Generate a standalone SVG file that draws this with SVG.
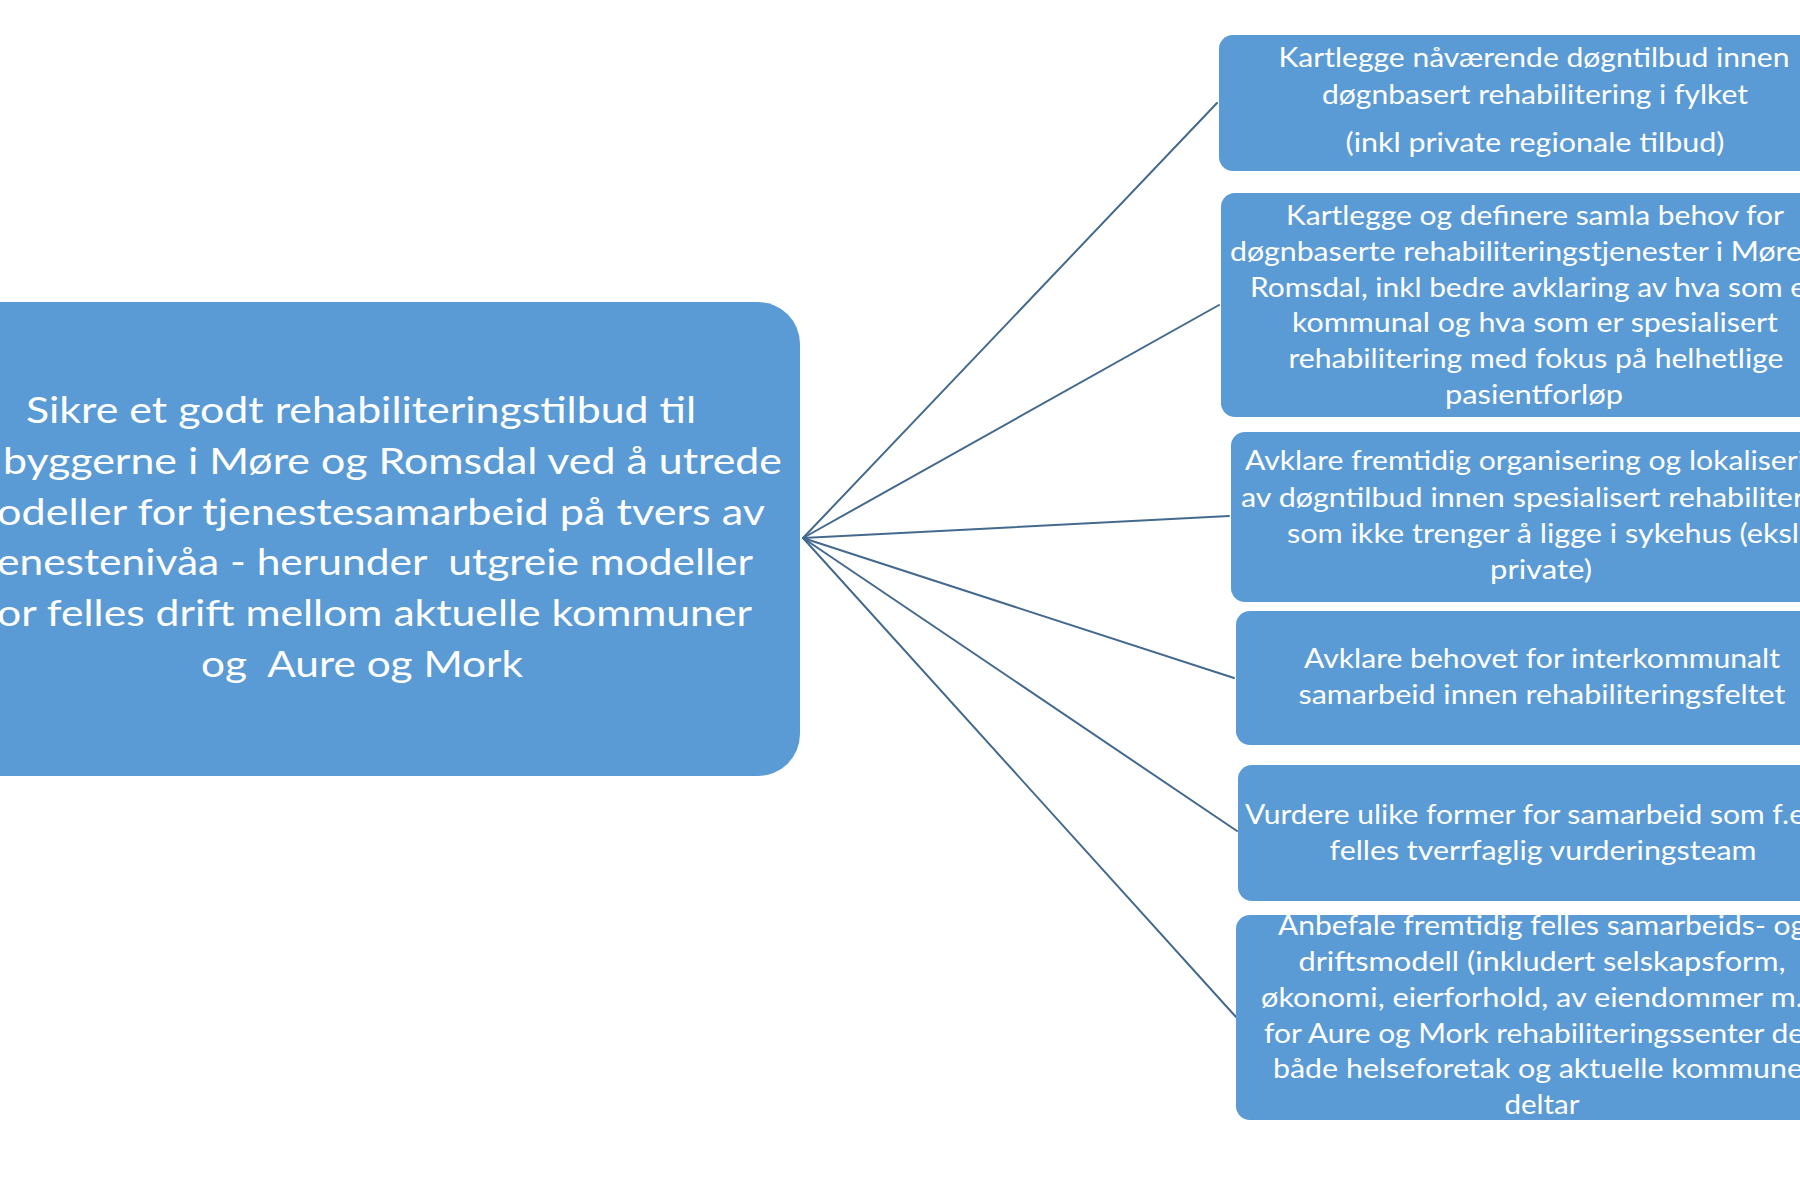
<svg xmlns="http://www.w3.org/2000/svg" width="1800" height="1200" viewBox="0 0 1800 1200">
<style>
.box{fill:#5B9BD5}
.t{font-family:Lato,"Liberation Sans",sans-serif;fill:#ffffff;font-size:26px}
.tm{font-size:37px}
.m{text-anchor:middle}
.e{text-anchor:end}
.c{stroke:#44698f;stroke-width:2;fill:none;stroke-linecap:round}
</style>
<rect width="1800" height="1200" fill="#ffffff"/>
<g id="connectors">
<line class="c" x1="803" y1="538" x2="1217" y2="103"/>
<line class="c" x1="803" y1="538" x2="1219" y2="305"/>
<line class="c" x1="803" y1="538" x2="1229" y2="516"/>
<line class="c" x1="803" y1="538" x2="1234" y2="678"/>
<line class="c" x1="803" y1="538" x2="1237" y2="831"/>
<line class="c" x1="803" y1="538" x2="1236" y2="1017"/>
</g>
<g id="main">
<rect class="box" x="-60" y="302" width="860" height="474" rx="42"/>
<text class="t tm m" x="361" y="423" textLength="670" lengthAdjust="spacingAndGlyphs">Sikre et godt rehabiliteringstilbud til</text>
<text class="t tm e" x="782" y="474" textLength="779" lengthAdjust="spacingAndGlyphs">byggerne i Møre og Romsdal ved å utrede</text>
<text class="t tm e" x="765" y="525" textLength="768" lengthAdjust="spacingAndGlyphs">odeller for tjenestesamarbeid på tvers av</text>
<text class="t tm e" x="753" y="575" textLength="756" lengthAdjust="spacingAndGlyphs" xml:space="preserve">enestenivåa - herunder  utgreie modeller</text>
<text class="t tm e" x="752" y="626" textLength="755" lengthAdjust="spacingAndGlyphs">or felles drift mellom aktuelle kommuner</text>
<text class="t tm m" x="362" y="677" textLength="322" lengthAdjust="spacingAndGlyphs" xml:space="preserve">og  Aure og Mork</text>
</g>
<g id="n1">
<rect class="box" x="1219" y="35" width="700" height="136" rx="14"/>
<text class="t m" x="1534" y="67" textLength="511" lengthAdjust="spacingAndGlyphs">Kartlegge nåværende døgntilbud innen</text>
<text class="t m" x="1535" y="104" textLength="426" lengthAdjust="spacingAndGlyphs">døgnbasert rehabilitering i fylket</text>
<text class="t m" x="1535" y="152" textLength="379" lengthAdjust="spacingAndGlyphs">(inkl private regionale tilbud)</text>
</g>
<g id="n2">
<rect class="box" x="1221" y="193" width="700" height="224" rx="14"/>
<text class="t m" x="1535" y="225" textLength="498" lengthAdjust="spacingAndGlyphs">Kartlegge og definere samla behov for</text>
<text class="t" x="1230" y="261" textLength="572" lengthAdjust="spacingAndGlyphs">døgnbaserte rehabiliteringstjenester i Møre</text>
<text class="t" x="1250" y="297" textLength="556" lengthAdjust="spacingAndGlyphs">Romsdal, inkl bedre avklaring av hva som e</text>
<text class="t m" x="1535" y="332" textLength="486" lengthAdjust="spacingAndGlyphs">kommunal og hva som er spesialisert</text>
<text class="t m" x="1536" y="368" textLength="495" lengthAdjust="spacingAndGlyphs">rehabilitering med fokus på helhetlige</text>
<text class="t m" x="1534" y="404" textLength="178" lengthAdjust="spacingAndGlyphs">pasientforløp</text>
</g>
<g id="n3">
<rect class="box" x="1231" y="432" width="700" height="170" rx="14"/>
<text class="t" x="1245" y="470" textLength="560" lengthAdjust="spacingAndGlyphs">Avklare fremtidig organisering og lokaliseri</text>
<text class="t" x="1241" y="507" textLength="563" lengthAdjust="spacingAndGlyphs">av døgntilbud innen spesialisert rehabiliter</text>
<text class="t" x="1287" y="543" textLength="512" lengthAdjust="spacingAndGlyphs">som ikke trenger å ligge i sykehus (eksl</text>
<text class="t m" x="1541" y="579" textLength="102" lengthAdjust="spacingAndGlyphs">private)</text>
</g>
<g id="n4">
<rect class="box" x="1236" y="611" width="700" height="134" rx="14"/>
<text class="t m" x="1542" y="668" textLength="476" lengthAdjust="spacingAndGlyphs">Avklare behovet for interkommunalt</text>
<text class="t m" x="1542" y="704" textLength="487" lengthAdjust="spacingAndGlyphs">samarbeid innen rehabiliteringsfeltet</text>
</g>
<g id="n5">
<rect class="box" x="1238" y="765" width="700" height="136" rx="14"/>
<text class="t" x="1245" y="824" textLength="560" lengthAdjust="spacingAndGlyphs">Vurdere ulike former for samarbeid som f.e</text>
<text class="t m" x="1543" y="860" textLength="427" lengthAdjust="spacingAndGlyphs">felles tverrfaglig vurderingsteam</text>
</g>
<g id="n6">
<rect class="box" x="1236" y="915" width="700" height="205" rx="14"/>
<text class="t" x="1278" y="935" textLength="528" lengthAdjust="spacingAndGlyphs">Anbefale fremtidig felles samarbeids- og</text>
<text class="t m" x="1542" y="971" textLength="487" lengthAdjust="spacingAndGlyphs">driftsmodell (inkludert selskapsform,</text>
<text class="t" x="1261" y="1007" textLength="542" lengthAdjust="spacingAndGlyphs">økonomi, eierforhold, av eiendommer m.</text>
<text class="t" x="1264" y="1043" textLength="540" lengthAdjust="spacingAndGlyphs">for Aure og Mork rehabiliteringssenter de</text>
<text class="t" x="1273" y="1078" textLength="530" lengthAdjust="spacingAndGlyphs">både helseforetak og aktuelle kommune</text>
<text class="t m" x="1542" y="1114" textLength="75" lengthAdjust="spacingAndGlyphs">deltar</text>
</g>
</svg>
